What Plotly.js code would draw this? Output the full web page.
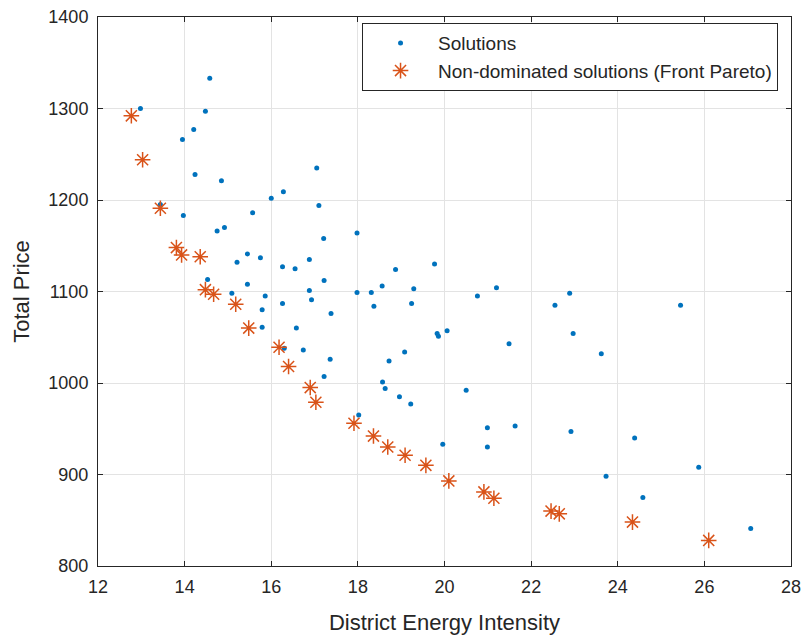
<!DOCTYPE html>
<html>
<head>
<meta charset="utf-8">
<script src="https://cdn.plot.ly/plotly-3.0.1.min.js"></script>
<style>html,body{margin:0;padding:0;background:#fff;}#chart{width:805px;height:637px;}</style>
</head>
<body>
<div id="chart"></div>
<script>
// Solutions (blue dots)
const solEnergy = [12.98,14.58,14.48,14.21,13.95,14.24,14.85,17.05,16.28,16.00,17.10,13.44,13.97,15.57,14.75,14.92,17.98,17.21,15.45,15.75,15.21,16.88,16.26,16.55,17.22,14.53,15.45,15.09,15.86,16.88,16.93,17.98,18.31,18.56,18.37,16.26,15.79,17.38,15.79,16.58,16.30,16.74,17.36,18.72,17.22,18.57,18.63,18.02,18.87,19.77,19.29,19.24,20.76,21.20,22.55,22.89,19.83,19.86,20.06,21.49,22.97,23.62,19.08,18.96,20.50,19.22,19.96,20.99,20.99,21.63,22.92,24.39,23.73,24.58,25.45,25.87,27.07];
const solPrice  = [1300,1333,1297,1277,1266,1228,1221,1235,1209,1202,1194,1195,1183,1186,1166,1170,1164,1158,1141,1137,1132,1135,1127,1125,1112,1113,1108,1098,1095,1101,1091,1099,1099,1106,1084,1087,1080,1076,1061,1060,1038,1036,1026,1024,1007,1001,994,965,1124,1130,1103,1087,1095,1104,1085,1098,1054,1051,1057,1043,1054,1032,1034,985,992,977,933,951,930,953,947,940,898,875,1085,908,841];
// Non-dominated solutions (red asterisks)
const paretoEnergy = [12.77,13.03,13.44,13.81,13.93,14.36,14.48,14.67,15.18,15.48,16.18,16.40,16.90,17.03,17.91,18.36,18.69,19.09,19.57,20.10,20.91,21.14,22.46,22.65,24.34,26.10];
const paretoPrice  = [1292,1244,1191,1148,1140,1138,1102,1097,1086,1060,1039,1018,995,979,956,942,930,921,910,893,881,874,860,857,848,828];

const seriesNames = ["Solutions","Non-dominated solutions (Front Pareto)"];
const xTitle = "District Energy Intensity";
const yTitle = "Total Price";

const fontFam = "Liberation Sans, Arial, Helvetica, sans-serif";
const txt = "#262626";

const traces = [
  {x: solEnergy, y: solPrice, type: "scatter", mode: "markers", name: seriesNames[0],
   marker: {color: "#0072BD", size: 5, symbol: "circle"}},
  {x: paretoEnergy, y: paretoPrice, type: "scatter", mode: "markers", name: seriesNames[1],
   marker: {color: "#D95319", size: 13, symbol: "asterisk-open", line: {color: "#D95319", width: 1.5}}}
];

const axisCommon = {
  showline: true, mirror: "ticks", linecolor: txt, linewidth: 1,
  ticks: "inside", ticklen: 5, tickcolor: txt, tickwidth: 1,
  showgrid: true, gridcolor: "#e3e3e3", gridwidth: 1,
  zeroline: false, tickfont: {family: fontFam, size: 18, color: txt}
};

const layout = {
  width: 805, height: 637,
  margin: {l: 97.5, r: 13.5, t: 17, b: 70.5},
  paper_bgcolor: "#fff", plot_bgcolor: "#fff",
  font: {family: fontFam, color: txt},
  showlegend: true,
  legend: {x: 0.381, y: 0.989, xanchor: "left", yanchor: "top",
           bgcolor: "#fff", bordercolor: txt, borderwidth: 1, itemwidth: 65,
           font: {family: fontFam, size: 19, color: txt}, itemsizing: "trace"},
  xaxis: Object.assign({}, axisCommon, {range: [12, 28], dtick: 2, tick0: 12, ticklabelstandoff: 4,
           title: {text: xTitle, font: {family: fontFam, size: 22, color: txt}, standoff: 19}}),
  yaxis: Object.assign({}, axisCommon, {range: [800, 1400], dtick: 100, tick0: 800, ticklabelstandoff: 5,
           title: {text: yTitle, font: {family: fontFam, size: 22, color: txt}, standoff: 12}})
};

Plotly.newPlot("chart", traces, layout, {displayModeBar: false, staticPlot: true});
</script>
</body>
</html>
